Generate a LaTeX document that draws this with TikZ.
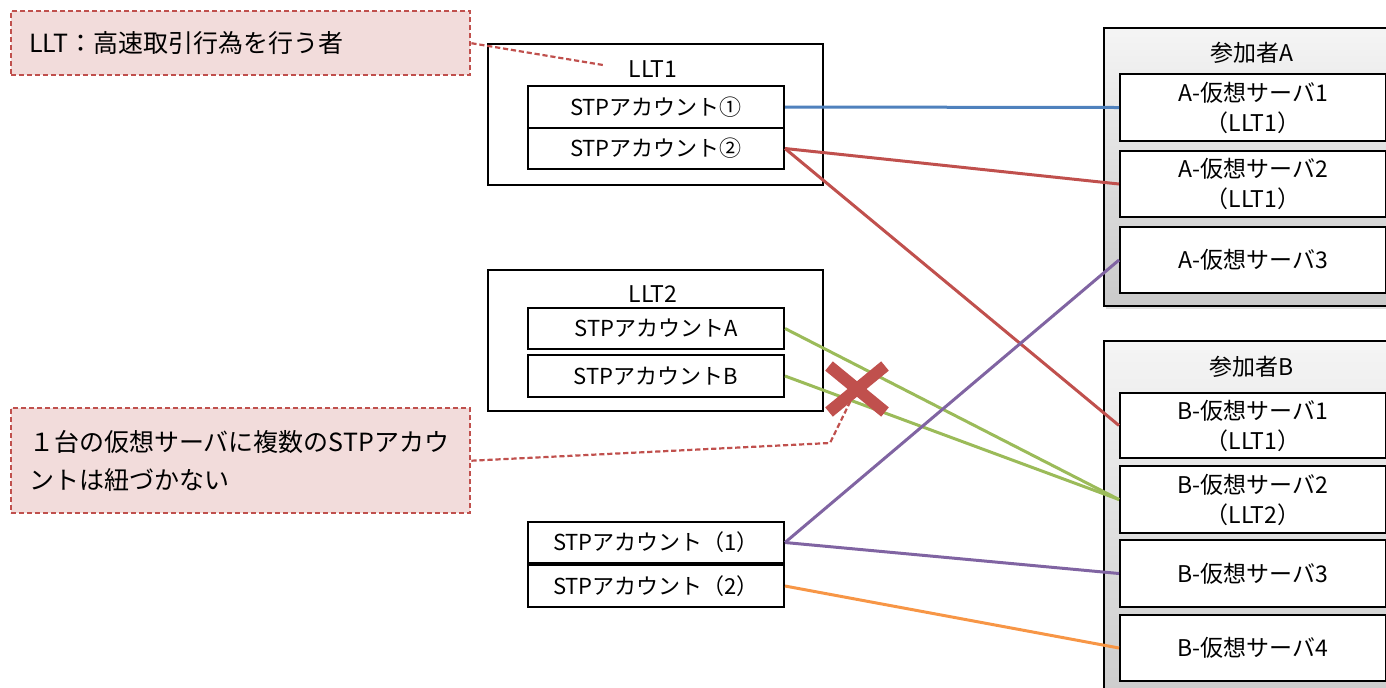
\documentclass[tikz,border=0pt]{standalone}
\usepackage{fontspec}
\setmainfont{Noto Sans CJK JP}
\usetikzlibrary{shadows}
\definecolor{accred}{HTML}{C0504D}
\definecolor{notepink}{HTML}{F2DCDB}
\definecolor{linkblue}{HTML}{4F81BD}
\definecolor{linkgreen}{HTML}{9BBB59}
\definecolor{linkpurple}{HTML}{8064A2}
\definecolor{linkorange}{HTML}{F79646}
\begin{document}
\begin{tikzpicture}[x=0.5pt,y=-0.5pt,
  box/.style={draw=black, line width=1pt, fill=white, inner sep=0pt,
    anchor=north west, align=center, font=\fontsize{11}{15}\selectfont},
  server/.style={box, font=\fontsize{11.5}{15}\selectfont},
  group/.style={draw=black, line width=1pt, fill=white, inner sep=0pt, anchor=north west},
  party/.style={draw=black, line width=1pt, inner sep=0pt, anchor=north west,
    top color=gray!8, bottom color=gray!42,
    drop shadow={opacity=0.25, shadow xshift=0.8pt, shadow yshift=-1.5pt}},
  note/.style={draw=accred, line width=1.2pt, dash pattern=on 2.6pt off 1.4pt,
    fill=notepink, inner ysep=0pt, inner xsep=9pt, anchor=north west,
    align=left, text width=211.5pt, font=\fontsize{12.5}{19}\selectfont},
  title/.style={font=\fontsize{11.5}{14}\selectfont},
  link/.style={line width=1.5pt},
  pointer/.style={draw=accred, line width=1.1pt, dash pattern=on 2.6pt off 1.4pt}]
\useasboundingbox (0,0) rectangle (1386,687);

% participant groups with their virtual servers
\node[party, minimum width=150pt, minimum height=139pt] (partA) at (1103,27) {};
\node[title] (partAlbl) at (1252,53) {参加者A};
\node[server, minimum width=133pt, minimum height=33.5pt] (a1) at (1119,73) {A-仮想サーバ1\\（LLT1）};
\node[server, minimum width=133pt, minimum height=33pt] (a2) at (1119,150) {A-仮想サーバ2\\（LLT1）};
\node[server, minimum width=133pt, minimum height=33pt] (a3) at (1119,226) {A-仮想サーバ3};

\node[party, minimum width=150pt, minimum height=190pt] (partB) at (1103,340) {};
\node[title] (partBlbl) at (1252,367) {参加者B};
\node[server, minimum width=133pt, minimum height=32.5pt] (b1) at (1119,392) {B-仮想サーバ1\\（LLT1）};
\node[server, minimum width=133pt, minimum height=33.5pt] (b2) at (1119,465) {B-仮想サーバ2\\（LLT2）};
\node[server, minimum width=133pt, minimum height=33.5pt] (b3) at (1119,539) {B-仮想サーバ3};
\node[server, minimum width=133pt, minimum height=33pt] (b4) at (1119,614) {B-仮想サーバ4};

% LLT groups and STP accounts
\node[group, minimum width=167.5pt, minimum height=70.5pt] (llt1) at (487,43) {};
\node[title] (llt1lbl) at (653,69) {LLT1};
\node[box, minimum width=128pt, minimum height=21pt] (s1) at (527,85) {STPアカウント①};
\node[box, minimum width=128pt, minimum height=20.5pt] (s2) at (527,127) {STPアカウント②};

\node[group, minimum width=167.5pt, minimum height=70.5pt] (llt2) at (487,269) {};
\node[title] (llt2lbl) at (653,294) {LLT2};
\node[box, minimum width=128pt, minimum height=20.5pt] (sA) at (527,307) {STPアカウントA};
\node[box, minimum width=128pt, minimum height=21pt] (sB) at (527,354) {STPアカウントB};

\node[box, minimum width=128pt, minimum height=20.5pt] (p1) at (527,521) {STPアカウント（1）};
\node[box, minimum width=128pt, minimum height=21pt] (p2) at (527,564) {STPアカウント（2）};

% account-to-server links
\draw[link, linkblue] (s1.east) -- (a1.west);
\draw[link, accred] (s2.east) -- (a2.west);
\draw[link, accred] (s2.east) -- (b1.west);
\draw[link, linkgreen] (sA.east) -- (b2.west);
\draw[link, linkgreen] (sB.east) -- (b2.west);
\draw[link, linkpurple] (p1.east) -- (a3.west);
\draw[link, linkpurple] (p1.east) -- (b3.west);
\draw[link, linkorange] (p2.east) -- (b4.west);

% cross over the forbidden pair of links
\coordinate (xmark) at (857,389);
\draw[accred, line width=6pt] ([shift={(-28,-23)}]xmark) -- ([shift={(28,23)}]xmark);
\draw[accred, line width=6pt] ([shift={(28,-23)}]xmark) -- ([shift={(-28,23)}]xmark);
\coordinate (xtip) at (851,400);

% notes
\node[note, minimum height=32pt] (note1) at (10,10) {LLT：高速取引行為を行う者};
\node[note, minimum height=52.5pt] (note2) at (10,407) {１台の仮想サーバに複数のSTPアカウ\\ントは紐づかない};
\coordinate (llt1tip) at (603,65);
\draw[pointer] (note1.east) -- (llt1tip);
\coordinate (bend) at (830,443);
\draw[pointer] (note2.east) -- (bend) -- (xtip);
\end{tikzpicture}
\end{document}
